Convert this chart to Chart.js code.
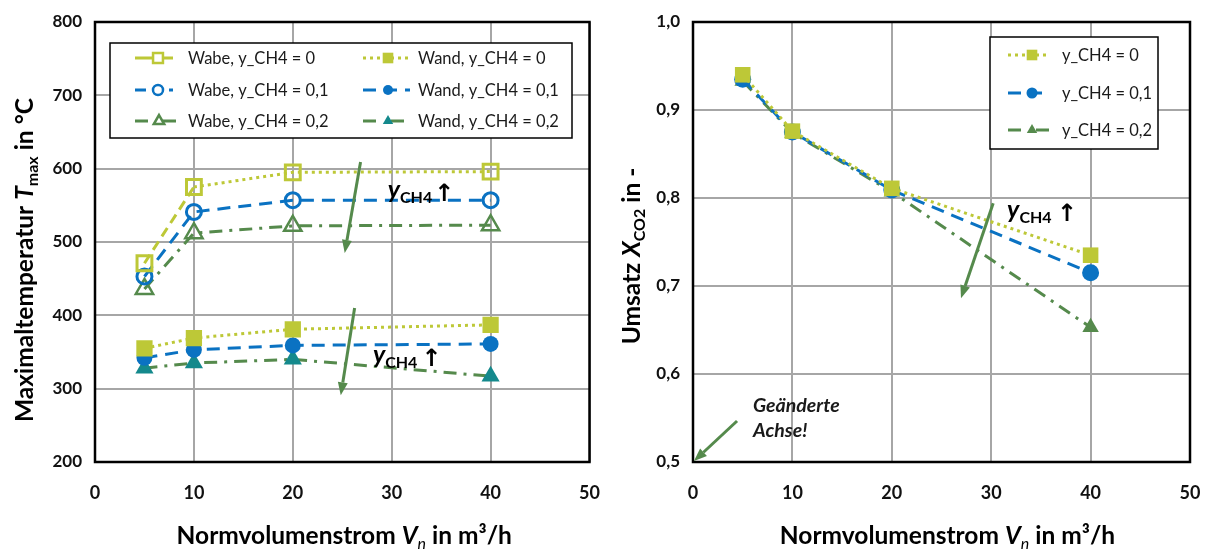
<!DOCTYPE html>
<html>
<head>
<meta charset="utf-8">
<script src="https://cdn.jsdelivr.net/npm/chart.js@4.4.1/dist/chart.umd.min.js"></script>
<style>
  html, body { margin: 0; padding: 0; background: #fff; }
  #wrap { position: relative; width: 1207px; height: 550px; overflow: hidden; }
  canvas { position: absolute; top: 0; }
</style>
</head>
<body>
<div id="wrap">
  <canvas id="cTemp" width="603" height="550" style="left:0"></canvas>
  <canvas id="cConv" width="604" height="550" style="left:603px"></canvas>
</div>
<script>
// Normvolumenstrom in m³/h
const flowRates = [5, 10, 20, 40];

// Maximaltemperatur in °C – Wabe (honeycomb) and Wand (wall)
const wabeCH4_0  = [471, 575, 595, 596];
const wabeCH4_01 = [453, 541, 557, 557];
const wabeCH4_02 = [436, 512, 522, 523];
const wandCH4_0  = [355, 369, 381, 387];
const wandCH4_01 = [342, 353, 359, 361];
const wandCH4_02 = [328, 335, 340, 317];

// Umsatz X_CO2 in -
const convCH4_0  = [0.940, 0.876, 0.811, 0.735];
const convCH4_01 = [0.935, 0.875, 0.809, 0.715];
const convCH4_02 = [0.933, 0.874, 0.807, 0.653];

// Axis ticks
const flowTicks = [0, 10, 20, 30, 40, 50];
const flowTickLabels = ['0', '10', '20', '30', '40', '50'];
const tempTicks = [200, 300, 400, 500, 600, 700, 800];
const tempTickLabels = ['200', '300', '400', '500', '600', '700', '800'];
const convTicks = [0.5, 0.6, 0.7, 0.8, 0.9, 1.0];
const convTickLabels = ['0,5', '0,6', '0,7', '0,8', '0,9', '1,0'];

const FONT = 'Lato, "Open Sans", sans-serif';
const C_YEL = '#BDC837';
const C_BLUE = '#0A72C2';
const C_GREEN = '#558A4C';
const C_TEAL = '#14898C';
const C_GRID = '#A6A6A6';

const DOT = [3, 4];
const DASH = [13, 8];
const DASHDOT = [13, 7, 3, 7];

const TITLE_PX = 24.5;

function pts(ys) { return flowRates.map((x, i) => ({ x: x, y: ys[i] })); }

function drawRich(ctx, parts, x, y, rot, align) {
  ctx.save();
  ctx.translate(x, y);
  ctx.rotate(rot || 0);
  let w = 0;
  parts.forEach(p => { ctx.font = p.font; p.w = ctx.measureText(p.t).width; w += p.w; });
  let cx = align === 'left' ? 0 : -w / 2;
  ctx.textBaseline = 'alphabetic';
  ctx.textAlign = 'left';
  parts.forEach(p => {
    ctx.font = p.font;
    ctx.fillStyle = p.color || '#000';
    ctx.fillText(p.t, cx, p.dy || 0);
    cx += p.w;
  });
  ctx.restore();
}

function drawMarker(ctx, style, x, y, r, fill, stroke, lw) {
  ctx.save();
  ctx.beginPath();
  if (style === 'rect') {
    const s = r * Math.SQRT1_2;
    ctx.rect(x - s, y - s, 2 * s, 2 * s);
  } else if (style === 'circle') {
    ctx.arc(x, y, r, 0, Math.PI * 2);
  } else if (style === 'triangle') {
    ctx.moveTo(x, y - r);
    ctx.lineTo(x + r * Math.sin(Math.PI * 2 / 3), y + r * 0.5);
    ctx.lineTo(x - r * Math.sin(Math.PI * 2 / 3), y + r * 0.5);
    ctx.closePath();
  }
  if (fill) { ctx.fillStyle = fill; ctx.fill(); }
  if (stroke) { ctx.strokeStyle = stroke; ctx.lineWidth = lw; ctx.stroke(); }
  ctx.restore();
}

function drawArrow(ctx, x1, y1, x2, y2, color) {
  const ang = Math.atan2(y2 - y1, x2 - x1);
  const hl = 13, hw = 5;
  const bx = x2 - hl * Math.cos(ang), by = y2 - hl * Math.sin(ang);
  ctx.save();
  ctx.strokeStyle = color;
  ctx.fillStyle = color;
  ctx.lineWidth = 3;
  ctx.beginPath();
  ctx.moveTo(x1, y1);
  ctx.lineTo(bx, by);
  ctx.stroke();
  ctx.beginPath();
  ctx.moveTo(x2, y2);
  ctx.lineTo(bx + hw * Math.sin(ang), by - hw * Math.cos(ang));
  ctx.lineTo(bx - hw * Math.sin(ang), by + hw * Math.cos(ang));
  ctx.closePath();
  ctx.fill();
  ctx.restore();
}

// Plot frame, legend box, axis titles and annotations
function decorPlugin(cfg) {
  return {
    id: 'decor',
    beforeDatasetsDraw(chart) {
      const a = chart.chartArea, ctx = chart.ctx;
      ctx.save();
      ctx.strokeStyle = '#000';
      ctx.lineWidth = 2.5;
      ctx.strokeRect(a.left, a.top, a.right - a.left, a.bottom - a.top);
      ctx.restore();
    },
    afterDatasetsDraw(chart) {
      const ctx = chart.ctx, L = cfg.legend;
      ctx.save();
      ctx.fillStyle = '#fff';
      ctx.fillRect(L.x, L.y, L.w, L.h);
      ctx.strokeStyle = '#000';
      ctx.lineWidth = 1.5;
      ctx.strokeRect(L.x, L.y, L.w, L.h);
      ctx.restore();
      L.items.forEach(it => {
        const ds = chart.data.datasets[it.ds];
        ctx.save();
        ctx.strokeStyle = ds.borderColor;
        ctx.lineWidth = 3;
        ctx.setLineDash(it.dash);
        ctx.beginPath();
        ctx.moveTo(it.x1, it.y);
        ctx.lineTo(it.x2, it.y);
        ctx.stroke();
        ctx.restore();
        const hollow = ds.pointBackgroundColor === 'rgba(0,0,0,0)';
        if (hollow) {
          drawMarker(ctx, ds.pointStyle, it.mx, it.y, it.r, '#fff', ds.pointBorderColor, 2.5);
        } else {
          drawMarker(ctx, ds.pointStyle, it.mx, it.y, it.r, ds.pointBackgroundColor, null, 0);
        }
        ctx.save();
        ctx.font = '16.5px ' + FONT;
        ctx.fillStyle = '#1a1a1a';
        ctx.textBaseline = 'middle';
        ctx.fillText(ds.label, it.tx, it.y + 1);
        ctx.restore();
      });
    },
    afterDraw(chart) {
      const ctx = chart.ctx, xs = chart.scales.x, ys = chart.scales.y;
      const X = v => xs.getPixelForValue(v), Y = v => ys.getPixelForValue(v);
      cfg.arrows.forEach(ar => drawArrow(ctx, X(ar[0]), Y(ar[1]), X(ar[2]), Y(ar[3]), C_GREEN));
      cfg.labels.forEach(lb => {
        drawRich(ctx, [
          { t: 'y', font: 'italic bold 25px ' + FONT },
          { t: 'CH4', font: 'bold 16px ' + FONT, dy: 5 },
        ], X(lb[0]), Y(lb[1]), 0, 'left');
        ctx.save();
        ctx.font = 'bold 24px "DejaVu Sans"';
        ctx.fillStyle = '#000';
        ctx.textBaseline = 'alphabetic';
        ctx.textAlign = 'center';
        ctx.fillText('\u2191', X(lb[2]), Y(lb[1]) + 3);
        ctx.restore();
      });
      (cfg.notes || []).forEach(n => {
        ctx.save();
        ctx.font = 'italic bold 19.5px ' + FONT;
        ctx.fillStyle = '#1a1a1a';
        ctx.textBaseline = 'alphabetic';
        ctx.fillText(n[2], X(n[0]), Y(n[1]));
        ctx.restore();
      });
      const a = chart.chartArea;
      drawRich(ctx, cfg.xTitle, (a.left + a.right) / 2 + cfg.xTitleShift, 544, 0, 'center');
      drawRich(ctx, cfg.yTitle, cfg.yTitleX, (a.top + a.bottom) / 2 + cfg.yTitleShift, -Math.PI / 2, 'center');
    }
  };
}

function titleParts(main, sym, sub, tail, subItalic) {
  return [
    { t: main, font: 'bold ' + TITLE_PX + 'px ' + FONT },
    { t: sym, font: 'italic bold ' + TITLE_PX + 'px ' + FONT },
    { t: sub, font: (subItalic ? 'italic ' : 'bold ') + '16px ' + FONT, dy: 5 },
    { t: tail, font: 'bold ' + TITLE_PX + 'px ' + FONT },
  ];
}

function axisX() {
  return {
    type: 'linear', min: 0, max: 50,
    afterBuildTicks: s => { s.ticks = flowTicks.map(v => ({ value: v })); },
    ticks: {
      callback: (v) => flowTickLabels[flowTicks.indexOf(v)],
      font: { family: FONT, size: 18, weight: 'bold' }, color: '#111',
      padding: 20, maxRotation: 0, autoSkip: false,
    },
    grid: { color: C_GRID, lineWidth: 2, drawTicks: false },
    border: { display: false },
    afterFit: s => { s.height = 88; s.paddingLeft = 0; s.paddingRight = 0; },
  };
}

function axisY(min, max, ticks, labels, width) {
  return {
    type: 'linear', min: min, max: max,
    afterBuildTicks: s => { s.ticks = ticks.map(v => ({ value: v })); },
    ticks: {
      callback: (v) => labels[ticks.findIndex(t => Math.abs(t - v) < 1e-9)],
      font: { family: FONT, size: 17, weight: 'bold' }, color: '#111',
      padding: 13, autoSkip: false,
    },
    grid: { color: C_GRID, lineWidth: 2, drawTicks: false },
    border: { display: false },
    afterFit: s => { s.width = width; s.paddingTop = 0; s.paddingBottom = 0; },
  };
}

const baseOpts = {
  responsive: false, animation: false, devicePixelRatio: 1,
  plugins: { legend: { display: false }, tooltip: { enabled: false } },
  elements: { line: { tension: 0, borderWidth: 3, borderCapStyle: 'butt' } },
};

const hollow = 'rgba(0,0,0,0)';

new Chart(document.getElementById('cTemp'), {
  type: 'line',
  data: {
    datasets: [
      { label: 'Wabe, y_CH4 = 0', data: pts(wabeCH4_0), borderColor: C_YEL,
        segment: { borderDash: c => c.p0DataIndex === 0 ? [10, 6] : DOT },
        pointStyle: 'rect', pointRadius: 10.5, pointBorderWidth: 3, pointBorderColor: C_YEL, pointBackgroundColor: hollow },
      { label: 'Wand, y_CH4 = 0', data: pts(wandCH4_0), borderColor: C_YEL, borderDash: DOT,
        pointStyle: 'rect', pointRadius: 11.5, pointBorderWidth: 0, pointBorderColor: C_YEL, pointBackgroundColor: C_YEL },
      { label: 'Wabe, y_CH4 = 0,1', data: pts(wabeCH4_01), borderColor: C_BLUE, borderDash: DASH,
        pointStyle: 'circle', pointRadius: 7.5, pointBorderWidth: 3, pointBorderColor: C_BLUE, pointBackgroundColor: hollow },
      { label: 'Wand, y_CH4 = 0,1', data: pts(wandCH4_01), borderColor: C_BLUE, borderDash: DASH,
        pointStyle: 'circle', pointRadius: 8, pointBorderWidth: 0, pointBorderColor: C_BLUE, pointBackgroundColor: C_BLUE },
      { label: 'Wabe, y_CH4 = 0,2', data: pts(wabeCH4_02), borderColor: C_GREEN, borderDash: DASHDOT,
        pointStyle: 'triangle', pointRadius: 10, pointBorderWidth: 2.5, pointBorderColor: C_GREEN, pointBackgroundColor: hollow },
      { label: 'Wand, y_CH4 = 0,2', data: pts(wandCH4_02), borderColor: C_GREEN, borderDash: DASHDOT,
        pointStyle: 'triangle', pointRadius: 10.5, pointBorderWidth: 0, pointBorderColor: C_TEAL, pointBackgroundColor: C_TEAL },
    ]
  },
  options: Object.assign({}, baseOpts, {
    layout: { padding: { top: 22, right: 9, left: 0, bottom: 0 } },
    scales: { x: axisX(), y: axisY(200, 800, tempTicks, tempTickLabels, 95) },
  }),
  plugins: [decorPlugin({
    legend: {
      x: 110, y: 43, w: 462, h: 95,
      items: [
        { ds: 0, x1: 135, x2: 173, mx: 158, r: 7, y: 58, tx: 188, dash: [10, 0] },
        { ds: 1, x1: 363, x2: 410, mx: 388, r: 7.5, y: 58, tx: 418, dash: DOT },
        { ds: 2, x1: 135, x2: 173, mx: 158, r: 5, y: 90, tx: 188, dash: [11, 6] },
        { ds: 3, x1: 363, x2: 410, mx: 388, r: 5, y: 90, tx: 418, dash: [13, 8] },
        { ds: 4, x1: 135, x2: 187, mx: 159, r: 6, y: 121, tx: 188, dash: [13, 15] },
        { ds: 5, x1: 363, x2: 414, mx: 388, r: 6, y: 121, tx: 418, dash: [13, 15] },
      ]
    },
    arrows: [[26.85, 609, 25.25, 485], [26.25, 410, 24.85, 291]],
    labels: [[29.6, 560, 35.3], [28.1, 335, 34.0]],
    xTitle: titleParts('Normvolumenstrom ', 'V', 'n', ' in m³/h', true), xTitleShift: 2,
    yTitle: titleParts('Maximaltemperatur ', 'T', 'max', ' in °C', false),
    yTitleX: 33, yTitleShift: 18,
  })]
});

new Chart(document.getElementById('cConv'), {
  type: 'line',
  data: {
    datasets: [
      { label: 'y_CH4 = 0', data: pts(convCH4_0), borderColor: C_YEL, borderDash: DOT,
        pointStyle: 'rect', pointRadius: 11, pointBorderWidth: 0, pointBackgroundColor: C_YEL },
      { label: 'y_CH4 = 0,1', data: pts(convCH4_01), borderColor: C_BLUE, borderDash: DASH,
        pointStyle: 'circle', pointRadius: 8.5, pointBorderWidth: 0, pointBackgroundColor: C_BLUE },
      { label: 'y_CH4 = 0,2', data: pts(convCH4_02), borderColor: C_GREEN, borderDash: DASHDOT,
        pointStyle: 'triangle', pointRadius: 9.5, pointBorderWidth: 0, pointBackgroundColor: C_GREEN },
    ]
  },
  options: Object.assign({}, baseOpts, {
    layout: { padding: { top: 22, right: 17, left: 0, bottom: 0 } },
    scales: { x: axisX(), y: axisY(0.5, 1.0, convTicks, convTickLabels, 90) },
  }),
  plugins: [decorPlugin({
    legend: {
      x: 387, y: 37, w: 168, h: 112,
      items: [
        { ds: 0, x1: 405, x2: 445, mx: 429, r: 7.5, y: 55, tx: 459, dash: DOT },
        { ds: 1, x1: 405, x2: 445, mx: 429, r: 5.5, y: 93, tx: 459, dash: [13, 8] },
        { ds: 2, x1: 405, x2: 448, mx: 429, r: 6, y: 130, tx: 459, dash: [13, 15] },
      ]
    },
    arrows: [[30.2, 0.794, 26.96, 0.686], [4.43, 0.5466, 0.1, 0.501]],
    labels: [[31.6, 0.777, 37.6]],
    notes: [[6.04, 0.557, 'Geänderte'], [6.04, 0.528, 'Achse!']],
    xTitle: titleParts('Normvolumenstrom ', 'V', 'n', ' in m³/h', true), xTitleShift: 6,
    yTitle: titleParts('Umsatz ', 'X', 'CO2', ' in -', false),
    yTitleX: 37, yTitleShift: 14,
  })]
});
</script>
</body>
</html>
